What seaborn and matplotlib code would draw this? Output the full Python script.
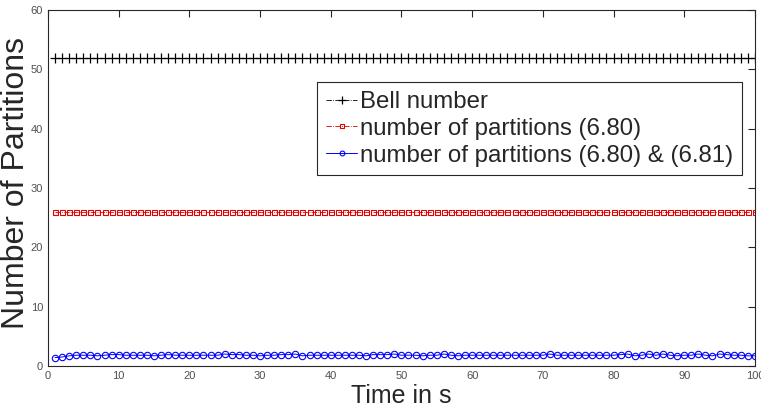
import numpy as np
import pandas as pd
import matplotlib
matplotlib.use("Agg")
import matplotlib.pyplot as plt
import seaborn as sns

# Time steps (s)
time_s = list(range(1, 101))

# Bell number of a 5-element set: constant over time
bell_number = [52] * 100

# Number of partitions obtained with condition (6.80)
partitions_680 = [26] * 100

# Number of partitions obtained with conditions (6.80) & (6.81)
partitions_680_681 = [
    1.4, 1.5, 1.7, 1.8, 1.8, 1.8, 1.7, 1.8, 1.9, 1.9,
    1.8, 1.8, 1.8, 1.8, 1.7, 1.8, 1.9, 1.8, 1.8, 1.8,
    1.8, 1.8, 1.8, 1.8, 2.0, 1.9, 1.9, 1.8, 1.8, 1.7,
    1.8, 1.8, 1.9, 1.9, 2.0, 1.7, 1.8, 1.8, 1.8, 1.8,
    1.8, 1.8, 1.8, 1.8, 1.7, 1.9, 1.9, 1.9, 2.0, 1.8,
    1.8, 1.8, 1.7, 1.8, 1.8, 2.0, 1.8, 1.7, 1.8, 1.8,
    1.8, 1.8, 1.8, 1.8, 1.8, 1.8, 1.8, 1.8, 1.8, 1.8,
    2.0, 1.8, 1.8, 1.8, 1.8, 1.8, 1.8, 1.8, 1.8, 1.8,
    1.9, 2.0, 1.7, 1.8, 2.0, 1.8, 2.0, 1.8, 1.7, 1.8,
    1.8, 2.0, 1.8, 1.7, 2.0, 1.9, 1.8, 1.8, 1.7, 1.7,
]

labels = [
    "Bell number",
    "number of partitions (6.80)",
    "number of partitions (6.80) & (6.81)",
]

x_ticks = list(range(0, 101, 10))
y_ticks = list(range(0, 61, 10))

sns.set_theme(style="white")
plt.rcParams["font.family"] = ["Liberation Sans", "DejaVu Sans"]

fig = plt.figure(figsize=(7.61, 4.07), dpi=100)
ax = fig.add_axes([0.063, 0.101, 0.929, 0.874])

sns.lineplot(x=time_s, y=bell_number, ax=ax, color="black", linestyle="-.",
             linewidth=0.6, marker="+", markersize=7, markeredgewidth=0.9,
             markeredgecolor="black", label=labels[0])
sns.lineplot(x=time_s, y=partitions_680, ax=ax, color="#e00000", linestyle="-.",
             linewidth=0.6, marker="s", markersize=3.6, markeredgewidth=0.8,
             markerfacecolor="none", markeredgecolor="#e00000",
             label=labels[1])
sns.lineplot(x=time_s, y=partitions_680_681, ax=ax, color="#0000ff", linestyle="-",
             linewidth=0.7, marker="o", markersize=4.6, markeredgewidth=0.8,
             markerfacecolor="none", markeredgecolor="#0000ff",
             label=labels[2])

ax.set_xlim(0, 100)
ax.set_ylim(0, 60)
ax.set_xticks(x_ticks)
ax.set_yticks(y_ticks)
ax.tick_params(direction="in", length=5, width=0.8, top=True, right=True,
               labelsize=8, labelcolor="#505050", color="#262626")
for side in ax.spines.values():
    side.set_color("#262626")
    side.set_linewidth(0.8)

ax.set_xlabel("Time in s", fontsize=18, color="#262626")
ax.xaxis.set_label_coords(0.5, -0.05)
ax.set_ylabel("Number of Partitions", fontsize=23, color="#262626")
ax.yaxis.set_label_coords(-0.024, 0.515)

leg = ax.legend(loc="upper right", bbox_to_anchor=(0.9816, 0.798), fontsize=17.3,
                frameon=True, fancybox=False, framealpha=1, edgecolor="#262626",
                handlelength=1.3, handletextpad=0.1, borderpad=0.37,
                labelspacing=0.2, borderaxespad=0, markerscale=0.75)
leg.get_frame().set_linewidth(0.8)

fig.savefig("out.png", dpi=100)
